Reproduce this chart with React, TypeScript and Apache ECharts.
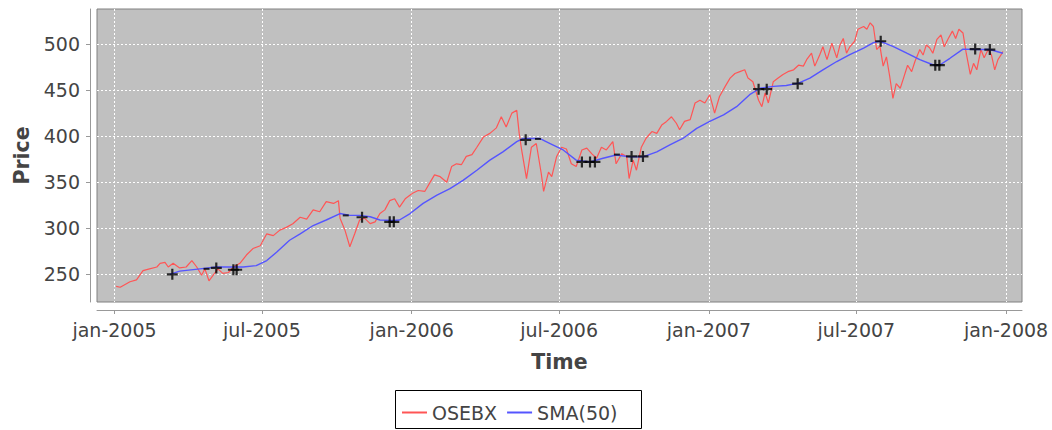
import React, { useEffect, useRef } from 'react';
import * as echarts from 'echarts';

const osebxDates = [
  '2005-01-03','2005-01-08','2005-01-20','2005-01-28','2005-02-05','2005-02-13','2005-02-22','2005-02-26',
  '2005-03-04','2005-03-08','2005-03-14','2005-03-22','2005-03-30','2005-04-06','2005-04-12','2005-04-18',
  '2005-04-22','2005-04-27','2005-05-02','2005-05-08','2005-05-14','2005-05-21','2005-05-27','2005-06-04',
  '2005-06-12','2005-06-20','2005-06-29','2005-07-07','2005-07-15','2005-07-23','2005-07-31','2005-08-08',
  '2005-08-17','2005-08-25','2005-09-02','2005-09-10','2005-09-18','2005-09-27','2005-10-03','2005-10-05',
  '2005-10-11','2005-10-17','2005-10-23','2005-10-29','2005-11-04','2005-11-11','2005-11-17','2005-11-23',
  '2005-11-29','2005-12-05','2005-12-11','2005-12-17','2005-12-24','2006-01-02','2006-01-09','2006-01-17',
  '2006-01-23','2006-01-29','2006-02-05','2006-02-13','2006-02-19','2006-02-25','2006-03-03','2006-03-09',
  '2006-03-16','2006-03-22','2006-03-30','2006-04-07','2006-04-15','2006-04-21','2006-04-27','2006-05-04',
  '2006-05-10','2006-05-13','2006-05-16','2006-05-22','2006-05-28','2006-06-03','2006-06-09','2006-06-12',
  '2006-06-18','2006-06-22','2006-06-28','2006-07-04','2006-07-10','2006-07-16','2006-07-22','2006-07-29',
  '2006-08-04','2006-08-10','2006-08-16','2006-08-22','2006-08-28','2006-09-05','2006-09-09','2006-09-16',
  '2006-09-22','2006-09-25','2006-09-30','2006-10-04','2006-10-10','2006-10-16','2006-10-23','2006-10-29',
  '2006-11-04','2006-11-10','2006-11-16','2006-11-22','2006-11-26','2006-12-02','2006-12-09','2006-12-15',
  '2006-12-21','2006-12-27','2007-01-02','2007-01-08','2007-01-14','2007-01-21','2007-01-27','2007-02-02',
  '2007-02-08','2007-02-14','2007-02-18','2007-02-24','2007-03-03','2007-03-07','2007-03-11','2007-03-15',
  '2007-03-21','2007-03-27','2007-04-02','2007-04-08','2007-04-15','2007-04-21','2007-04-27','2007-05-01',
  '2007-05-07','2007-05-11','2007-05-17','2007-05-21','2007-05-26','2007-06-01','2007-06-07','2007-06-11',
  '2007-06-15','2007-06-19','2007-06-23','2007-06-29','2007-07-03','2007-07-10','2007-07-14','2007-07-18',
  '2007-07-22','2007-07-26','2007-07-30','2007-08-03','2007-08-07','2007-08-11','2007-08-15','2007-08-19',
  '2007-08-24','2007-08-28','2007-09-02','2007-09-07','2007-09-11','2007-09-17','2007-09-21','2007-09-25',
  '2007-09-29','2007-10-03','2007-10-08','2007-10-13','2007-10-17','2007-10-22','2007-10-27','2007-10-31',
  '2007-11-04','2007-11-09','2007-11-13','2007-11-18','2007-11-22','2007-11-26','2007-12-01','2007-12-05',
  '2007-12-10','2007-12-14','2007-12-18','2007-12-22','2007-12-27','2007-12-28'
];
const osebxValues = [
  237, 236, 242, 244, 254, 256, 258, 262,
  263, 258, 262, 257, 258, 265, 258, 249,
  256, 243, 249, 256, 251, 252, 258, 262,
  271, 278, 281, 294, 292, 298, 301, 305,
  312, 310, 320, 318, 329, 327, 330, 311,
  298, 280, 294, 309, 311, 305, 307, 316,
  320, 330, 332, 323, 332, 338, 341, 340,
  349, 358, 356, 350, 367, 370, 369, 378,
  380, 388, 399, 403, 409, 421, 410, 425,
  428, 403, 385, 354, 388, 392, 360, 340,
  361, 356, 378, 388, 386, 370, 367, 385,
  387, 381, 376, 388, 385, 394, 370, 381,
  378, 354, 374, 363, 388, 398, 405, 403,
  412, 416, 421, 414, 407, 416, 418, 436,
  439, 436, 445, 425, 443, 454, 463, 468,
  470, 472, 463, 459, 439, 432, 447, 436,
  459, 463, 467, 470, 472, 477, 476, 483,
  490, 476, 488, 497, 483, 501, 485, 499,
  506, 490, 497, 503, 516, 519, 516, 523,
  519, 494, 498, 476, 486, 465, 441, 457,
  452, 463, 477, 470, 481, 494, 488, 499,
  496, 490, 505, 510, 497, 506, 514, 506,
  516, 512, 490, 467, 479, 472, 494, 485,
  494, 488, 472, 483, 490, 492
];

const smaDates = [
  '2005-03-10','2005-03-22','2005-04-16','2005-05-06','2005-05-27','2005-06-08','2005-06-24','2005-07-07',
  '2005-07-19','2005-08-04','2005-08-17','2005-09-02','2005-09-18','2005-10-05','2005-10-17','2005-10-29',
  '2005-11-11','2005-11-23','2005-12-09','2005-12-17','2005-12-30','2006-01-15','2006-02-01','2006-02-17',
  '2006-03-05','2006-03-22','2006-04-07','2006-04-23','2006-05-10','2006-05-18','2006-06-07','2006-06-20',
  '2006-07-06','2006-07-22','2006-08-08','2006-08-24','2006-09-09','2006-09-26','2006-10-12','2006-10-29',
  '2006-11-14','2006-11-30','2006-12-17','2007-01-02','2007-01-19','2007-02-04','2007-02-20','2007-03-05',
  '2007-03-21','2007-04-06','2007-04-21','2007-05-05','2007-05-21','2007-06-07','2007-06-23','2007-07-10',
  '2007-07-22','2007-07-30','2007-08-15','2007-09-01','2007-09-17','2007-10-03','2007-10-12','2007-10-24',
  '2007-11-09','2007-11-26','2007-12-12','2007-12-28'
];
const smaValues = [
  250, 253.5, 256, 258, 258, 258, 259.5, 265,
  274, 287, 294, 303, 309, 316, 314, 314,
  312.5, 309, 308.5, 309, 316, 327, 336, 343,
  352, 363, 374, 383, 394, 397.5, 397.5, 392,
  385, 374, 372, 376, 379.5, 377.5, 377.5, 383,
  390.5, 397.5, 408.5, 416, 423, 432, 445, 452,
  454, 455, 457.5, 463, 472, 481, 488.5, 495.5,
  501.5, 503, 497.5, 490, 483, 477.5, 477.5, 484.5,
  494.5, 494, 494, 490
];

const buyDates = [
  '2005-03-13','2005-05-06','2005-05-27','2005-05-31','2005-11-01','2005-12-05','2005-12-10',
  '2006-05-21','2006-07-29','2006-08-08','2006-08-14','2006-09-28','2006-10-12',
  '2007-03-03','2007-03-13','2007-04-20','2007-07-31','2007-10-06','2007-10-11','2007-11-24','2007-12-12'
];
const buyValues = [
  250, 257, 255, 255, 312, 307, 307,
  396, 372, 372, 372, 378, 378,
  451, 451, 457, 503, 477, 477, 494.5, 494
];
const sellDates = ['2005-04-24', '2005-10-12', '2006-06-05', '2006-09-10'];
const sellValues = [256, 314, 397, 380];

const xTickDates = ['2005-01-01','2005-07-01','2006-01-01','2006-07-01','2007-01-01','2007-07-01','2008-01-01'];
const yTickValues = [250, 300, 350, 400, 450, 500];
const monthNames = ['jan','feb','mar','apr','mai','jun','jul','aug','sep','okt','nov','des'];

const FONT = 'DejaVu Sans';

function toTime(s: string): number {
  return new Date(s + 'T00:00:00').getTime();
}

export default function App() {
  const ref = useRef<HTMLDivElement>(null);
  useEffect(() => {
    if (!ref.current) return;
    const chart = echarts.init(ref.current, undefined, { renderer: 'svg' });
    const zip = (d: string[], v: number[]) => d.map((s, i) => [toTime(s), v[i]]);
    const xTicks = xTickDates.map(toTime);
    chart.setOption({
      animation: false,
      backgroundColor: '#ffffff',
      textStyle: { fontFamily: FONT },
      grid: {
        left: 97, top: 9, width: 925, height: 293,
        show: true, backgroundColor: '#c0c0c0', borderColor: '#808080', borderWidth: 1,
      },
      legend: {
        data: ['OSEBX', 'SMA(50)'],
        left: 402, top: 403, padding: 0,
        icon: 'rect', itemWidth: 25, itemHeight: 2, itemGap: 10,
        textStyle: { fontSize: 19, color: '#444444', fontFamily: FONT },
        z: 10,
      },
      graphic: [
        {
          type: 'rect', z: 5,
          shape: { x: 395.5, y: 390.5, width: 246, height: 38 },
          style: { fill: '#ffffff', stroke: '#000000', lineWidth: 1 },
        },
      ],
      xAxis: {
        type: 'value',
        min: toTime('2004-12-10') + 12 * 3600 * 1000,
        max: toTime('2008-01-20') + 12 * 3600 * 1000,
        offset: 8,
        name: 'Time', nameLocation: 'middle', nameGap: 41,
        nameTextStyle: { fontSize: 20.5, fontWeight: 'bold', color: '#444444', fontFamily: FONT },
        axisLine: { show: true, lineStyle: { color: '#999999', width: 1 } },
        axisTick: { show: true, length: 4, lineStyle: { color: '#999999' }, customValues: xTicks },
        axisLabel: {
          customValues: xTicks, margin: 10, fontSize: 19, color: '#444444', fontFamily: FONT,
          formatter: (val: number) => {
            const d = new Date(val);
            return monthNames[d.getMonth()] + '-' + d.getFullYear();
          },
        },
        splitLine: { show: true, lineStyle: { color: '#ffffff', type: [2, 2], width: 1 } },
      },
      yAxis: {
        type: 'value',
        min: 220, max: 538,
        offset: 7,
        name: 'Price', nameLocation: 'middle', nameGap: 54, nameRotate: 90,
        nameTextStyle: { fontSize: 20.5, fontWeight: 'bold', color: '#444444', fontFamily: FONT },
        axisLine: { show: true, lineStyle: { color: '#999999', width: 1 } },
        axisTick: { show: true, length: 4, lineStyle: { color: '#999999' }, customValues: yTickValues },
        axisLabel: { customValues: yTickValues, margin: 10, fontSize: 19, color: '#444444', fontFamily: FONT },
        splitLine: { show: true, lineStyle: { color: '#ffffff', type: [2, 2], width: 1 } },
      },
      series: [
        {
          name: 'OSEBX', type: 'line', data: zip(osebxDates, osebxValues),
          showSymbol: false, symbol: 'none', color: '#ff5555',
          lineStyle: { color: '#ff5555', width: 1.2 }, z: 2,
        },
        {
          name: 'SMA(50)', type: 'line', data: zip(smaDates, smaValues),
          showSymbol: false, symbol: 'none', color: '#5555ff',
          lineStyle: { color: '#5555ff', width: 1.4 }, z: 3,
        },
        {
          name: 'buy', type: 'scatter', data: zip(buyDates, buyValues),
          symbol: 'path://M4,0H6V4H10V6H6V10H4V6H0V4H4Z', symbolSize: 11,
          itemStyle: { color: '#000000' }, z: 4,
        },
        {
          name: 'sell', type: 'scatter', data: zip(sellDates, sellValues),
          symbol: 'rect', symbolSize: [6, 2],
          itemStyle: { color: '#000000' }, z: 4,
        },
      ],
    });
    return () => chart.dispose();
  }, []);
  return (
    <div
      ref={ref}
      style={{ position: 'absolute', left: 0, top: 0, width: 1052, height: 430 }}
    />
  );
}
